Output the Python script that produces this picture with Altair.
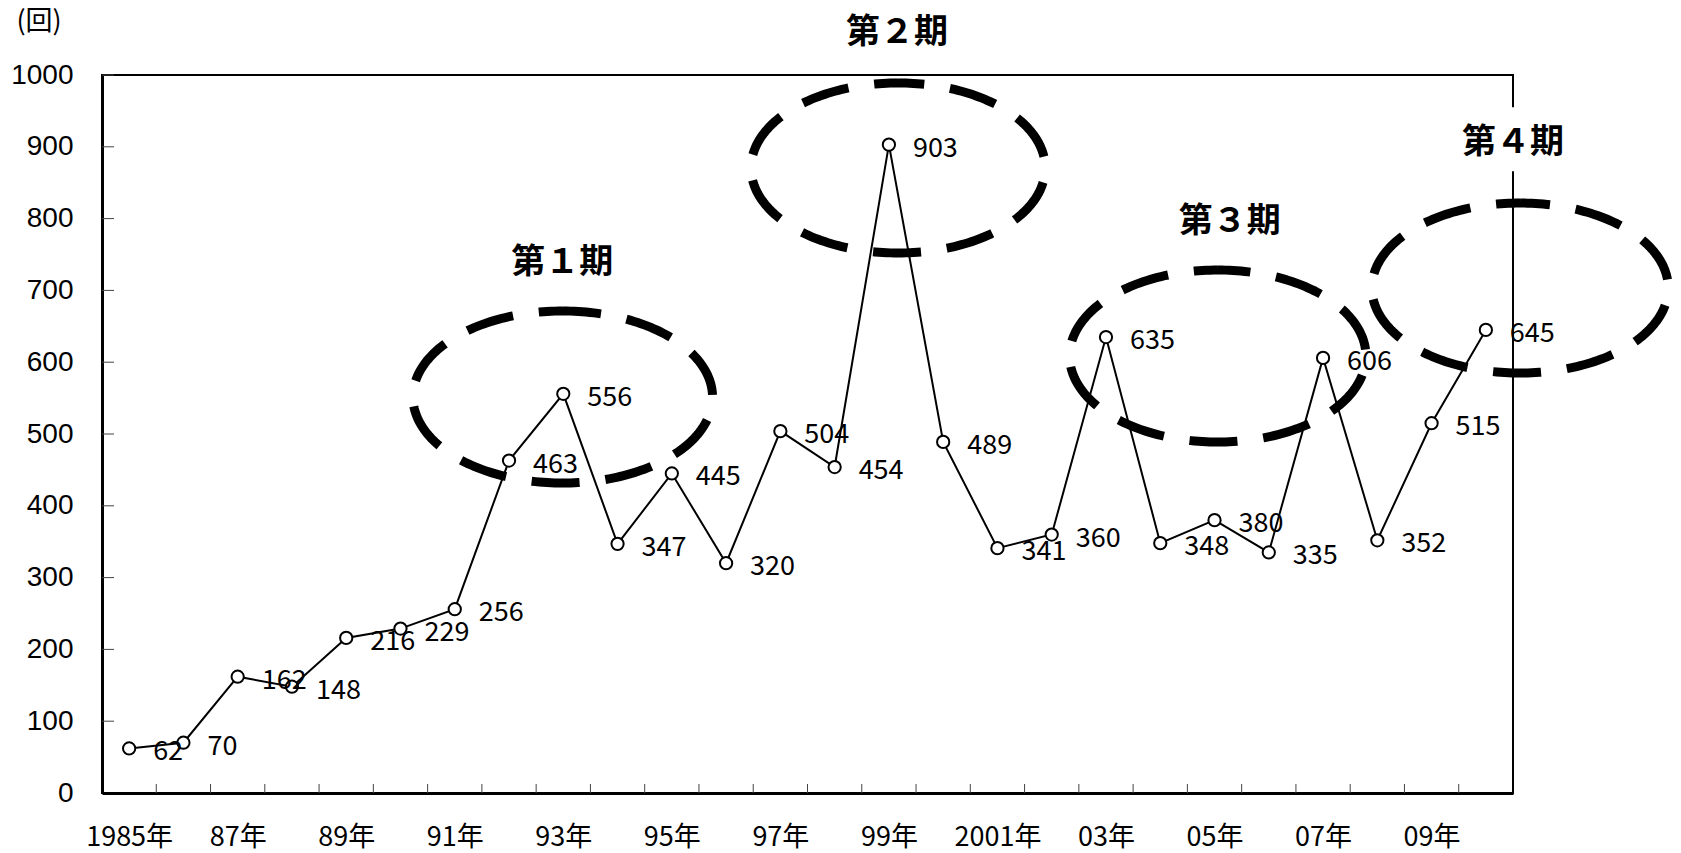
import altair as alt
import numpy as np
import pandas as pd

# ---- data ----
years = list(range(1985, 2011))
counts = [62, 70, 162, 148, 216, 229, 256, 463, 556, 347, 445, 320, 504,
          454, 903, 489, 341, 360, 635, 348, 380, 335, 606, 352, 515, 645]

x_tick_years = [1985, 1987, 1989, 1991, 1993, 1995, 1997, 1999, 2001, 2003, 2005, 2007, 2009]
x_tick_labels = ["1985年", "87年", "89年", "91年", "93年", "95年", "97年", "99年",
                 "2001年", "03年", "05年", "07年", "09年"]
x_boundaries = [y + 0.5 for y in range(1985, 2010)]
y_ticks = list(range(0, 1001, 100))

# annotation periods (centres / radii in data units)
period_names = ["第１期", "第２期", "第３期", "第４期"]
period_label_x = [1992.98, 1999.15, 2005.28, 2010.5]
period_label_y = [738, 1058, 795, 905]
ellipse_cx = [1992.99, 1999.17, 2005.06, 2010.63]
ellipse_cy = [551.5, 870.5, 608.6, 703.3]
ellipse_rx = [2.76, 2.71, 2.73, 2.73]
ellipse_ry = [119.8, 118.4, 119.8, 118.4]

unit_label = "(回)"

# ---- tables ----
series = pd.DataFrame({"x": years, "y": counts})
series["label"] = series["y"].astype(str)

t = np.linspace(0, 2 * np.pi, 241) + np.pi / 2
erows = []
for i in range(len(period_names)):
    for k, tt in enumerate(t):
        erows.append({"id": i, "k": k,
                      "x": ellipse_cx[i] + ellipse_rx[i] * np.cos(tt),
                      "y": ellipse_cy[i] + ellipse_ry[i] * np.sin(tt)})
ell = pd.DataFrame(erows)

titles = pd.DataFrame({"x": period_label_x, "y": period_label_y, "label": period_names})
box4 = pd.DataFrame({"x": [period_label_x[3] - 1.0], "x2": [period_label_x[3] + 1.0],
                     "y": [period_label_y[3] - 39], "y2": [period_label_y[3] + 50]})
ytick_df = pd.DataFrame({"y": y_ticks[1:]})
xtick_df = pd.DataFrame({"x": x_boundaries})

xs = alt.Scale(domain=[1984.5, 2010.5], nice=False, zero=False)
ys = alt.Scale(domain=[0, 1000], nice=False)

arr_years = "[" + ",".join(str(v) for v in x_tick_years) + "]"
arr_labels = "[" + ",".join("'" + s + "'" for s in x_tick_labels) + "]"
x_axis = alt.Axis(values=x_tick_years, labelExpr=f"{arr_labels}[indexof({arr_years}, datum.value)]",
                  title=None, ticks=False, tickSize=0, grid=False, domainColor="black",
                  domainWidth=3, labelFont="Noto Sans CJK JP", labelFontSize=27,
                  labelColor="black", labelBaseline="middle", labelPadding=44,
                  labelAlign="center", labelOverlap=False)
y_axis = alt.Axis(values=y_ticks, format="d", title=None, ticks=False, tickSize=0, grid=False,
                  domainColor="black", domainWidth=3, labelFont="Liberation Sans",
                  labelFontSize=28, labelColor="black", labelPadding=29,
                  labelOverlap=False)


def X(**kw):
    return alt.X("x:Q", scale=xs, axis=x_axis, **kw)


def Y(**kw):
    return alt.Y("y:Q", scale=ys, axis=y_axis, **kw)


line = alt.Chart(series).mark_line(color="black", strokeWidth=2).encode(x=X(), y=Y())
points = alt.Chart(series).mark_point(shape="circle", filled=True, fill="white", stroke="black",
                                      strokeWidth=2, size=150, opacity=1).encode(x=X(), y=Y())
labels = alt.Chart(series).mark_text(align="left", baseline="middle", dx=24, dy=4,
                                     font="Noto Sans CJK JP", fontSize=27, color="black").encode(
    x=X(), y=Y(), text="label:N")

ellipses = alt.Chart(ell).mark_line(color="black", strokeWidth=9, strokeDash=[48, 26],
                                    strokeCap="butt", strokeDashOffset=24).encode(
    x=X(), y=Y(), detail="id:N", order="k:Q")

box = alt.Chart(box4).mark_rect(color="white").encode(x=X(), x2="x2:Q", y=Y(), y2="y2:Q")

title_text = alt.Chart(titles).mark_text(font="Noto Sans CJK JP", fontSize=34, fontWeight="bold",
                                         color="black", baseline="middle", align="center").encode(
    x=X(), y=Y(), text="label:N")

yticks = alt.Chart(ytick_df).mark_rule(color="#444", strokeWidth=1).encode(
    y=Y(), x=alt.value(0), x2=alt.value(12))
xticks = alt.Chart(xtick_df).mark_rule(color="#444", strokeWidth=1).encode(
    x=X(), y=alt.value(718), y2=alt.value(709))

unit = alt.Chart(pd.DataFrame({"label": [unit_label]})).mark_text(
    font="Noto Sans CJK JP", fontSize=27, color="black", align="center", baseline="middle").encode(
    x=alt.value(-63), y=alt.value(-53), text="label:N")

chart = alt.layer(yticks, xticks, line, points, labels, ellipses, box, title_text, unit).properties(
    width=1411, height=718,
    autosize=alt.AutoSizeParams(type="none"),
    padding={"left": 102, "top": 75, "right": 168, "bottom": 60},
    background="white",
).configure_view(stroke="black", strokeWidth=2)

chart.save("out.html", embed_options={"renderer": "svg", "actions": False})
